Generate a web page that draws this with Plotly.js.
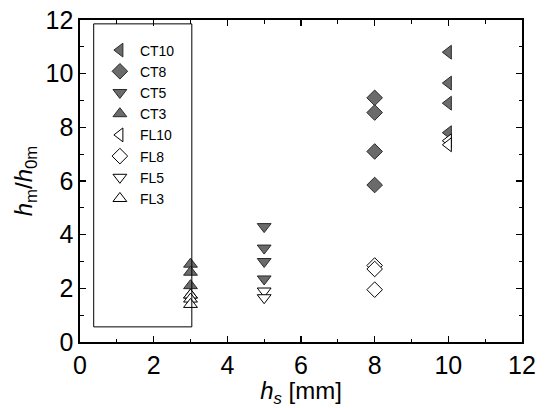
<!DOCTYPE html>
<html>
<head>
<meta charset="utf-8">
<script src="https://cdn.plot.ly/plotly-3.0.1.min.js"></script>
<style>html,body{margin:0;padding:0;background:#fff;}#chart{width:545px;height:408px;}</style>
</head>
<body>
<div id="chart"></div>
<script>
// Data
const names = ["CT10", "CT8", "CT5", "CT3", "FL10", "FL8", "FL5", "FL3"];
const hs_CT10 = [10, 10, 10, 10];
const ratio_CT10 = [10.8, 9.65, 8.9, 7.8];
const hs_CT8 = [8, 8, 8, 8];
const ratio_CT8 = [9.1, 8.55, 7.1, 5.85];
const hs_CT5 = [5, 5, 5, 5];
const ratio_CT5 = [4.3, 3.5, 3.0, 2.35];
const hs_CT3 = [3, 3, 3, 3];
const ratio_CT3 = [2.9, 2.6, 2.1, 1.75];
const hs_FL10 = [10, 10];
const ratio_FL10 = [7.5, 7.35];
const hs_FL8 = [8, 8, 8];
const ratio_FL8 = [2.85, 2.72, 1.95];
const hs_FL5 = [5, 5];
const ratio_FL5 = [1.9, 1.65];
const hs_FL3 = [3, 3, 3];
const ratio_FL3 = [1.75, 1.6, 1.4];

const xs = [hs_CT10, hs_CT8, hs_CT5, hs_CT3, hs_FL10, hs_FL8, hs_FL5, hs_FL3];
const ys = [ratio_CT10, ratio_CT8, ratio_CT5, ratio_CT3, ratio_FL10, ratio_FL8, ratio_FL5, ratio_FL3];
const symbols = ["triangle-left", "diamond", "triangle-down", "triangle-up",
                 "triangle-left", "diamond", "triangle-down", "triangle-up"];

const traces = names.map((n, i) => {
  const filled = i < 4;
  return {
    type: "scatter", mode: "markers", name: n,
    x: xs[i], y: ys[i],
    marker: {
      symbol: symbols[i],
      size: 12,
      color: filled ? "#6b6b6b" : "#ffffff",
      line: {color: filled ? "#2a2a2a" : "#000000", width: 1}
    }
  };
});

const fontFam = "Liberation Sans, Arial, sans-serif";
const axisCommon = {
  showgrid: false, zeroline: false,
  showline: true, linecolor: "#000", linewidth: 1.6, mirror: "allticks",
  ticks: "inside", ticklen: 6, tickwidth: 1.3, tickcolor: "#000",
  minor: {dtick: 1, ticks: "inside", ticklen: 3.5, tickwidth: 1.1, tickcolor: "#000"},
  tickfont: {family: fontFam, size: 25, color: "#000"},
  range: [0, 12], dtick: 2, tick0: 0
};

const layout = {
  width: 545, height: 408,
  margin: {l: 80, r: 23, t: 20, b: 66},
  paper_bgcolor: "#fff", plot_bgcolor: "#fff",
  showlegend: true,
  legend: {
    x: 0.045, y: 0.955, xanchor: "left", yanchor: "top",
    bgcolor: "rgba(0,0,0,0)", borderwidth: 0,
    font: {family: fontFam, size: 14, color: "#000"},
    tracegroupgap: 0, itemwidth: 30
  },
  xaxis: Object.assign({}, axisCommon, {
    ticklabelstandoff: 0,
    title: {text: "<i>h</i><sub><i>s</i></sub> [mm]", font: {family: fontFam, size: 24, color: "#000"}, standoff: 2}
  }),
  yaxis: Object.assign({}, axisCommon, {
    title: {text: "<i>h</i><sub>m</sub>/<i>h</i><sub>0m</sub>", font: {family: fontFam, size: 24, color: "#000"}, standoff: 6}
  }),
  shapes: [{
    type: "rect", xref: "paper", yref: "paper",
    x0: 0.031, x1: 0.253, y0: 0.047, y1: 0.988,
    line: {color: "#000", width: 1}, fillcolor: "rgba(0,0,0,0)"
  }]
};

Plotly.newPlot("chart", traces, layout, {displayModeBar: false, staticPlot: true});
</script>
</body>
</html>
